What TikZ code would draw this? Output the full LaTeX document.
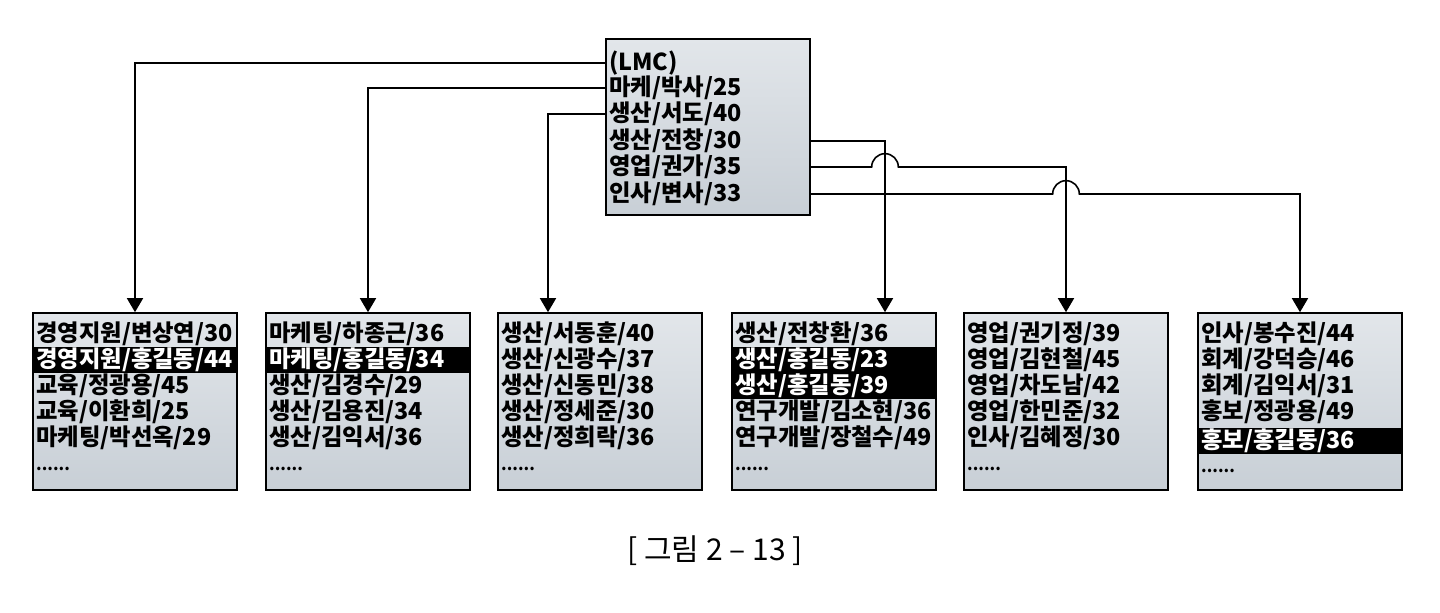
\documentclass[tikz,border=0pt]{standalone}
\usepackage{fontspec}
\setmainfont{Noto Sans CJK KR}
\usetikzlibrary{arrows.meta}
\definecolor{boxtop}{RGB}{226,230,234}
\definecolor{boxbot}{RGB}{200,207,214}
\tikzset{
  box/.style={draw=black, line width=1.2pt, top color=boxtop, bottom color=boxbot, minimum width=153pt, inner sep=0pt},
  row/.style={anchor=west, inner xsep=3pt, inner ysep=0pt, outer sep=0pt, minimum height=19.5pt, text width=147pt, align=left, font=\fontsize{17.5}{19}\selectfont\bfseries},
  hl/.style={row, fill=black, text=white},
  more/.style={row, font=\fontsize{12}{13}\selectfont\bfseries},
  link/.style={line width=1.2pt},
  arr/.style={link, -{Triangle[width=12pt,length=10.5pt]}},
}
\begin{document}
\begin{tikzpicture}[x=0.75pt,y=0.75pt,yscale=-1,xscale=1]
\useasboundingbox (0,0) rectangle (1440,613);
% top box
\node[box, minimum height=132pt] (lmc) at (708,127) {};
\node[row] (m1) at (lmc.west |- 0,63) {(LMC)};
\node[row] (m2) at (lmc.west |- 0,88) {마케/박사/25};
\node[row] (m3) at (lmc.west |- 0,114) {생산/서도/40};
\node[row] (m4) at (lmc.west |- 0,141) {생산/전창/30};
\node[row] (m5) at (lmc.west |- 0,167) {영업/권가/35};
\node[row] (m6) at (lmc.west |- 0,194) {인사/변사/33};
% bottom boxes
\node[box, minimum height=132.75pt] (b1) at (135,401.5) {};
\node[row] (b1r1) at (b1.west |- 0,334) {경영지원/변상연/30};
\node[hl]  (b1r2) at (b1.west |- 0,360) {경영지원/홍길동/44};
\node[row] (b1r3) at (b1.west |- 0,386) {교육/정광용/45};
\node[row] (b1r4) at (b1.west |- 0,412) {교육/이환희/25};
\node[row] (b1r5) at (b1.west |- 0,438) {마케팅/박선옥/29};
\node[more] (b1r6) at (b1.west |- 0,469) {......};
\node[box, minimum height=132.75pt] (b2) at (368,401.5) {};
\node[row] (b2r1) at (b2.west |- 0,334) {마케팅/하종근/36};
\node[hl]  (b2r2) at (b2.west |- 0,360) {마케팅/홍길동/34};
\node[row] (b2r3) at (b2.west |- 0,386) {생산/김경수/29};
\node[row] (b2r4) at (b2.west |- 0,412) {생산/김용진/34};
\node[row] (b2r5) at (b2.west |- 0,438) {생산/김익서/36};
\node[more] (b2r6) at (b2.west |- 0,469) {......};
\node[box, minimum height=132.75pt] (b3) at (600,401.5) {};
\node[row] (b3r1) at (b3.west |- 0,334) {생산/서동훈/40};
\node[row] (b3r2) at (b3.west |- 0,360) {생산/신광수/37};
\node[row] (b3r3) at (b3.west |- 0,386) {생산/신동민/38};
\node[row] (b3r4) at (b3.west |- 0,412) {생산/정세준/30};
\node[row] (b3r5) at (b3.west |- 0,438) {생산/정희락/36};
\node[more] (b3r6) at (b3.west |- 0,469) {......};
\node[box, minimum height=132.75pt] (b4) at (834,401.5) {};
\node[row] (b4r1) at (b4.west |- 0,334) {생산/전창환/36};
\node[hl]  (b4r2) at (b4.west |- 0,360) {생산/홍길동/23};
\node[hl]  (b4r3) at (b4.west |- 0,386) {생산/홍길동/39};
\node[row] (b4r4) at (b4.west |- 0,412) {연구개발/김소현/36};
\node[row] (b4r5) at (b4.west |- 0,438) {연구개발/장철수/49};
\node[more] (b4r6) at (b4.west |- 0,469) {......};
\node[box, minimum height=132.75pt] (b5) at (1066,401.5) {};
\node[row] (b5r1) at (b5.west |- 0,334) {영업/권기정/39};
\node[row] (b5r2) at (b5.west |- 0,360) {영업/김현철/45};
\node[row] (b5r3) at (b5.west |- 0,386) {영업/차도남/42};
\node[row] (b5r4) at (b5.west |- 0,412) {영업/한민준/32};
\node[row] (b5r5) at (b5.west |- 0,438) {인사/김혜정/30};
\node[more] (b5r6) at (b5.west |- 0,469) {......};
\node[box, minimum height=132.75pt] (b6) at (1300,401.5) {};
\node[row] (b6r1) at (b6.west |- 0,334) {인사/봉수진/44};
\node[row] (b6r2) at (b6.west |- 0,360) {회계/강덕승/46};
\node[row] (b6r3) at (b6.west |- 0,386) {회계/김익서/31};
\node[row] (b6r4) at (b6.west |- 0,412) {홍보/정광용/49};
\node[hl]  (b6r5) at (b6.west |- 0,441) {홍보/홍길동/36};
\node[more] (b6r6) at (b6.west |- 0,471) {......};
% connectors
\coordinate (b3in) at ([xshift=-39pt]b3.north);
\coordinate (b4in) at ([xshift=38.25pt]b4.north);
\draw[arr] (m1.west) -| (b1.north);
\draw[arr] (m2.west) -| (b2.north);
\draw[arr] (m3.west) -| (b3in);
\draw[arr] (m4.east) -| (b4in);
\draw[arr] (m5.east) -- ([xshift=-10pt]b4in |- m5.east) arc[start angle=180,end angle=360,radius=10pt] -| (b5.north);
\draw[arr] (m6.east) -- ([xshift=-10pt]b5.north |- m6.east) arc[start angle=180,end angle=360,radius=10pt] -| (b6.north);
% caption
\node[font=\fontsize{22.5}{26}\selectfont] (cap) at (715,551) {[ 그림 2 – 13 ]};
\end{tikzpicture}
\end{document}
